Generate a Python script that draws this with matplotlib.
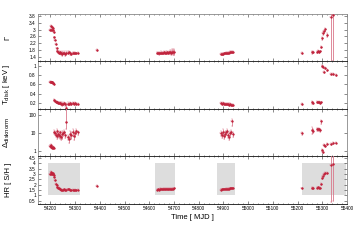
import numpy as np
import matplotlib
matplotlib.use("Agg")
import matplotlib.pyplot as plt
from matplotlib.patches import Rectangle
from matplotlib.ticker import MultipleLocator, FixedLocator

plt.rcParams['font.family'] = ['Liberation Sans', 'DejaVu Sans']

nan = np.nan
# ---- Cluster data (MJD, Gamma, Tdisk, Delta, HR) ----
mjd = [54199, 54201, 54203, 54205, 54207, 54209, 54211, 54213,
       54216, 54219, 54222, 54225, 54228, 54231,
       54234, 54237, 54240, 54244, 54248, 54252, 54256, 54260, 54265, 54270,
       54275, 54280, 54285, 54290, 54295, 54300, 54305, 54310,
       54387,
       54632, 54636, 54640, 54644, 54648, 54652, 54656, 54660, 54664, 54668,
       54672, 54676, 54680, 54684, 54688, 54692, 54696, 54700,
       54890, 54894, 54898, 54902, 54906, 54910, 54914, 54918, 54922, 54926,
       54930, 54934, 54937,
       55217, 55259, 55261, 55280, 55284, 55288, 55292, 55296, 55300, 55302,
       55306, 55313, 55321, 55335, 55344, 55354]

gamma = [3.0, 3.2, 3.0, 3.15, 3.0, 3.1, 3.0, 2.85,
         2.55, 2.4, 2.15, 1.9, 1.75, 1.7,
         1.65, 1.62, 1.68, 1.6, 1.58, 1.62, 1.65, 1.55, 1.6, 1.63,
         1.7, 1.6, 1.58, 1.62, 1.6, 1.63, 1.6, 1.62,
         1.8,
         1.6, 1.62, 1.6, 1.63, 1.65, 1.62, 1.64, 1.66, 1.63, 1.65,
         1.67, 1.64, 1.66, 1.68, 1.65, 1.7, 1.66, 1.68,
         1.55, 1.57, 1.58, 1.6, 1.6, 1.62, 1.63, 1.64, 1.65, 1.66,
         1.67, 1.68, 1.7,
         1.64, 1.67, 1.7, 1.7, 1.72, 1.7, 1.71, 1.99, 2.49, 2.78,
         2.9, 3.02, 2.68, 3.76, 3.86, nan]

gamma_err = [0.05, 0.06, 0.05, 0.06, 0.05, 0.05, 0.05, 0.05,
             0.04, 0.04, 0.04, 0.04, 0.04, 0.05,
             0.06, 0.08, 0.06, 0.1, 0.15, 0.08, 0.06, 0.08, 0.12, 0.08,
             0.06, 0.08, 0.06, 0.05, 0.06, 0.05, 0.05, 0.05,
             0.08,
             0.06, 0.06, 0.07, 0.06, 0.08, 0.07, 0.06, 0.08, 0.07, 0.1,
             0.08, 0.06, 0.08, 0.1, 0.12, 0.15, 0.18, 0.15,
             0.05, 0.05, 0.05, 0.05, 0.05, 0.05, 0.05, 0.05, 0.05, 0.05,
             0.05, 0.05, 0.05,
             0.05, 0.08, 0.06, 0.05, 0.05, 0.05, 0.05, 0.06, 0.08, 0.1,
             0.1, 0.1, 0.1, 3.0, 3.0, nan]

tdisk = [0.66, 0.65, 0.66, 0.64, 0.65, 0.63, 0.62, 0.6,
         0.26, 0.245, 0.23, 0.22, 0.21, 0.2,
         0.2, 0.19, 0.2, 0.18, 0.17, 0.18, 0.19, 0.17, 0.1, 0.18,
         0.17, 0.19, 0.18, 0.2, 0.18, 0.19, 0.17, 0.18,
         nan,
         nan, nan, nan, nan, nan, nan, nan, nan, nan, nan,
         nan, nan, nan, nan, nan, nan, nan, nan,
         0.19, 0.18, 0.19, 0.18, 0.17, 0.18, 0.17, 0.18, 0.16, 0.17,
         0.15, 0.16, 0.15,
         0.18, 0.215, 0.2, 0.22, 0.21, 0.22, 0.2, 0.21, 0.99, 0.97,
         0.87, 0.95, 0.9, 0.83, 0.82, 0.80]

tdisk_err = [0.01, 0.01, 0.01, 0.01, 0.01, 0.01, 0.01, 0.01,
             0.02, 0.02, 0.02, 0.02, 0.02, 0.02,
             0.02, 0.02, 0.02, 0.03, 0.04, 0.02, 0.02, 0.03, 0.09, 0.03,
             0.02, 0.03, 0.02, 0.02, 0.02, 0.02, 0.02, 0.02,
             nan,
             nan, nan, nan, nan, nan, nan, nan, nan, nan, nan,
             nan, nan, nan, nan, nan, nan, nan, nan,
             0.02, 0.02, 0.02, 0.02, 0.02, 0.02, 0.02, 0.02, 0.03, 0.02,
             0.02, 0.02, 0.02,
             0.02, 0.03, 0.02, 0.02, 0.02, 0.02, 0.02, 0.02, 0.02, 0.02,
             0.02, 0.02, 0.02, 0.02, 0.02, 0.02]

delta = [2.0, 2.2, 1.8, 1.7, 1.6, 1.8, 1.5, 1.6,
         12, 10, 8, 7, 13, 9,
         8, 11, 7, 6, 9, 10, 12, 8, 40, 6,
         5, 9, 8, 12, 7, 10, 13, 11,
         nan,
         nan, nan, nan, nan, nan, nan, nan, nan, nan, nan,
         nan, nan, nan, nan, nan, nan, nan, nan,
         10, 8, 12, 7, 9, 11, 14, 8, 6, 10,
         12, 44, 9,
         10, 15, 14, 16.7, 16, 17, 15, 44, 1.2, 0.95,
         2.2, 2.0, 2.5, 2.5, 2.8, 3.0]

delta_err = [0.2, 0.25, 0.2, 0.2, 0.15, 0.2, 0.15, 0.15,
             3, 2.5, 2, 2, 3, 3,
             2.5, 3, 2, 2, 4, 3, 3, 2.5, 200, 2,
             2, 4, 3, 5, 3, 4, 4, 3,
             nan,
             nan, nan, nan, nan, nan, nan, nan, nan, nan, nan,
             nan, nan, nan, nan, nan, nan, nan, nan,
             3, 2.5, 4, 2, 3, 3, 4, 2.5, 2, 3,
             3, 20, 3,
             2, 6, 4, 3, 3, 3, 3, 10, 0.2, 0.15,
             0.3, 0.3, 0.3, 0.3, 0.3, 0.3]

hr = [3.0, 3.2, 3.05, 3.15, 3.0, 3.1, 3.0, 2.9,
      2.75, 2.45, 2.1, 1.95, 1.75, 1.67,
      1.7, 1.6, 1.65, 1.55, 1.5, 1.55, 1.6, 1.5, 1.55, 1.6,
      1.6, 1.5, 1.5, 1.55, 1.5, 1.55, 1.5, 1.52,
      1.9,
      1.55, 1.58, 1.55, 1.6, 1.62, 1.58, 1.6, 1.62, 1.6, 1.63,
      1.62, 1.6, 1.63, 1.65, 1.6, 1.65, 1.62, 1.66,
      1.55, 1.57, 1.58, 1.6, 1.6, 1.62, 1.63, 1.64, 1.65, 1.66,
      1.67, 1.68, 1.7,
      1.67, 1.73, 1.7, 1.73, 1.75, 1.72, 1.74, 2.08, 2.61, 2.83,
      3.0, 3.08, 3.14, 3.86, 3.95, nan]

hr_err = [0.05] * 32 + [0.05] + [0.06] * 18 + [0.04] * 13 + \
         [0.05, 0.08, 0.06, 0.05, 0.05, 0.05, 0.05, 0.06, 0.08, 0.1,
          0.1, 0.1, 0.1, 3.5, 3.5, nan]

# shaded intervals in HR panel (MJD start, end) and HR range
box_start = [54190, 54623, 54875, 55219]
box_end = [54320, 54705, 54947, 55395]
box_lo, box_hi = 1.0, 4.0

W, H = 360, 252
fig = plt.figure(figsize=(W / 100, H / 100), dpi=100)
left = 38 / W
width = 309 / W

def mk(top, bot):
    return fig.add_axes([left, 1 - bot / H, width, (bot - top) / H])

ax1 = mk(14, 61)
ax2 = mk(61, 109)
ax3 = mk(109, 156)
ax4 = mk(156, 204)
axes = [ax1, ax2, ax3, ax4]

col = '#c0233c'
ecol = '#d9778a'
x = np.array(mjd, float)

def plot_panel(ax, y, yerr):
    y = np.array(y, float)
    yerr = np.array(yerr, float)
    ax.errorbar(x, y, yerr=yerr, xerr=2.5, fmt='o', ms=1.3, color=col,
                ecolor=ecol, elinewidth=0.6, capsize=0.8, capthick=0.5,
                mew=0.3, zorder=3)

plot_panel(ax1, gamma, gamma_err)
plot_panel(ax2, tdisk, tdisk_err)
# log panel: asymmetric errors to stay positive
d = np.array(delta, float)
de = np.array(delta_err, float)
lo = np.minimum(de, d * 0.6)
ax3.errorbar(x, d, yerr=[lo, de], xerr=2.5, fmt='o', ms=1.3, color=col,
             ecolor=ecol, elinewidth=0.6, capsize=0.8, capthick=0.5,
             mew=0.3, zorder=3)
ax3.set_yscale('log')
plot_panel(ax4, hr, hr_err)

for s, e in zip(box_start, box_end):
    ax4.add_patch(Rectangle((s, box_lo), e - s, box_hi - box_lo,
                            facecolor='#dddddd', edgecolor='none', zorder=1))

ax1.set_ylim(1.15, 3.92)
ax1.yaxis.set_major_locator(FixedLocator([1.4, 1.8, 2.2, 2.6, 3.0, 3.4, 3.8]))
ax1.set_yticklabels(['1.4', '1.8', '2.2', '2.6', '3', '3.4', '3.8'])
ax2.set_ylim(0.07, 1.1)
ax2.yaxis.set_major_locator(FixedLocator([0.2, 0.4, 0.6, 0.8, 1.0]))
ax2.set_yticklabels(['0.2', '0.4', '0.6', '0.8', '1'])
ax3.set_ylim(0.55, 215)
ax3.yaxis.set_major_locator(FixedLocator([1, 10, 100]))
ax3.set_yticklabels(['1', '10', '100'])
ax3.yaxis.set_minor_locator(FixedLocator([]))
ax4.set_ylim(0.2, 4.7)
ax4.yaxis.set_major_locator(FixedLocator([0.5, 1, 1.5, 2, 2.5, 3, 3.5, 4, 4.5]))
ax4.set_yticklabels(['0.5', '1', '1.5', '2', '2.5', '3', '3.5', '4', '4.5'])

for ax in axes:
    ax.set_xlim(54150, 55400)
    ax.xaxis.set_major_locator(MultipleLocator(100))
    ax.xaxis.set_minor_locator(MultipleLocator(20))
    ax.tick_params(which='both', direction='in', top=True, right=True,
                   labelsize=3.4, pad=1.5, width=0.4, color='#333333')
    ax.tick_params(which='major', length=2)
    ax.tick_params(which='minor', length=1)
    for sp in ax.spines.values():
        sp.set_linewidth(0.6)
        sp.set_color('#888888')
    ax.spines['top'].set_color('#111111')
    ax.spines['bottom'].set_color('#111111')
    if ax is not ax4:
        ax.tick_params(labelbottom=False)

ax1.spines['top'].set_color('#888888')

ax1.set_ylabel('Γ', fontsize=5.5, labelpad=10)
ax2.set_ylabel('T$_{\\rm disk}$ [ keV ]', fontsize=5.5, labelpad=6)
ax3.set_ylabel('Δ$_{\\rm disknorm}$', fontsize=5.5, labelpad=8)
ax4.set_ylabel('HR [ S/H ]', fontsize=5.5, labelpad=6)
ax4.set_xlabel('Time [ MJD ]', fontsize=5.5, labelpad=2)

for ax in axes:
    ax.yaxis.set_label_coords(-0.085, 0.5)

fig.savefig('out.png', dpi=100)
